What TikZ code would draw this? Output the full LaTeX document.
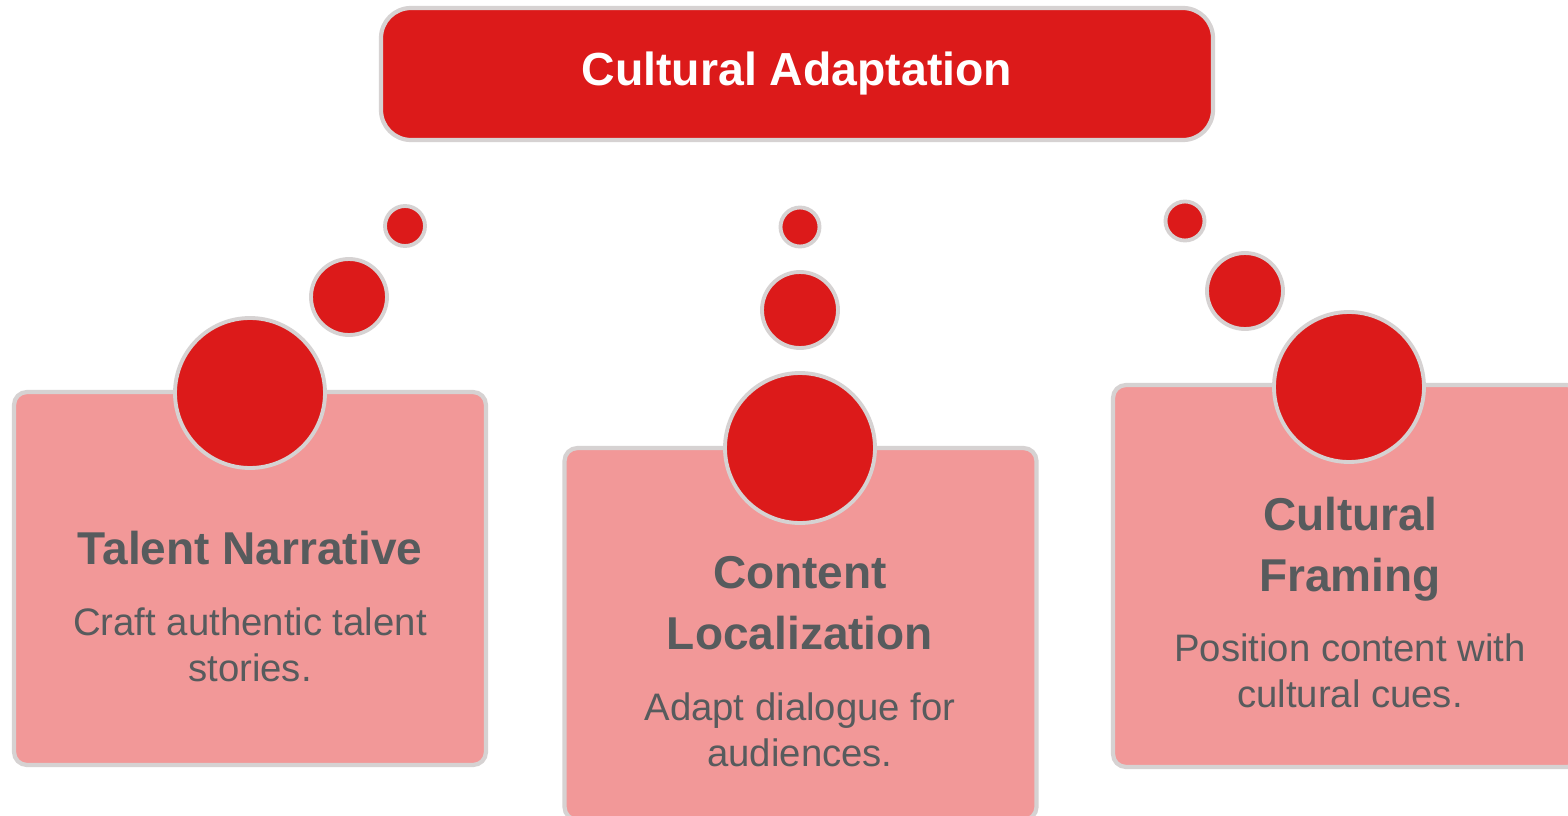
\documentclass[tikz,border=0pt]{standalone}
\usepackage{fontspec}
\setmainfont{Liberation Sans}
\usepackage{tikz}
\usetikzlibrary{positioning}
\definecolor{capred}{HTML}{DC1A1A}
\definecolor{cardpink}{HTML}{F29898}
\definecolor{rimgray}{HTML}{D6D2D2}
\definecolor{inkgray}{HTML}{575B5D}

\begin{document}
\begin{tikzpicture}[x=0.1mm,y=-0.1mm]
\tikzset{
  hdr/.style={draw=rimgray,fill=capred,line width=1.2pt,rounded corners=3mm,minimum width=83.2mm,minimum height=13.2mm,text=white,font=\fontsize{13.2}{16}\selectfont\bfseries},
  card/.style={draw=rimgray,fill=cardpink,line width=1.2pt,rounded corners=1.3mm,minimum width=47.2mm,minimum height=37.3mm},
  dot/.style={circle,draw=rimgray,fill=capred,line width=1.1pt,inner sep=0pt},
  ttl/.style={align=center,text=inkgray,font=\fontsize{13.1}{17.4}\selectfont\bfseries},
  txt/.style={align=center,text=inkgray,font=\fontsize{10.9}{13.2}\selectfont}
}
\useasboundingbox (0,0) rectangle (1568,816);
\clip (0,0) rectangle (1568,816);
\fill[white] (0,0) rectangle (1568,816);

\node[hdr] (top) at (797,74) {Cultural Adaptation};

% cards
\node[card] (talent) at (250,578.5) {};
\node[card,minimum height=37.2mm] (content) at (800.5,634) {};
\node[card,minimum width=46.7mm,minimum height=38.2mm] (framing) at (1346.5,576) {};

% bubbles, big one sits on the card edge
\node[dot,minimum size=15mm] (talentL) at (250,393) {};
\node[dot,minimum size=7.6mm] (talentM) at (349,297) {};
\node[dot,minimum size=4mm] (talentS) at (405,226) {};

\node[dot,minimum size=15mm] (contentL) at (800,448) {};
\node[dot,minimum size=7.6mm] (contentM) at (800,310) {};
\node[dot,minimum size=3.9mm] (contentS) at (800,227) {};

\node[dot,minimum size=15mm] (framingL) at (1349,387) {};
\node[dot,minimum size=7.6mm] (framingM) at (1245,291) {};
\node[dot,minimum size=3.9mm] (framingS) at (1185,221) {};

% card texts
\node[ttl] (talentT) at (250,548) {Talent Narrative};
\node[txt] (talentD) at (250,645) {Craft authentic talent\\stories.};

\node[ttl] (contentT) at (800,603) {Content\\Localization};
\node[txt] (contentD) at (800,730) {Adapt dialogue for\\audiences.};

\node[ttl] (framingT) at (1350,549) {Cultural\\Framing};
\node[txt] (framingD) at (1350,671) {Position content with\\cultural cues.};
\end{tikzpicture}
\end{document}
